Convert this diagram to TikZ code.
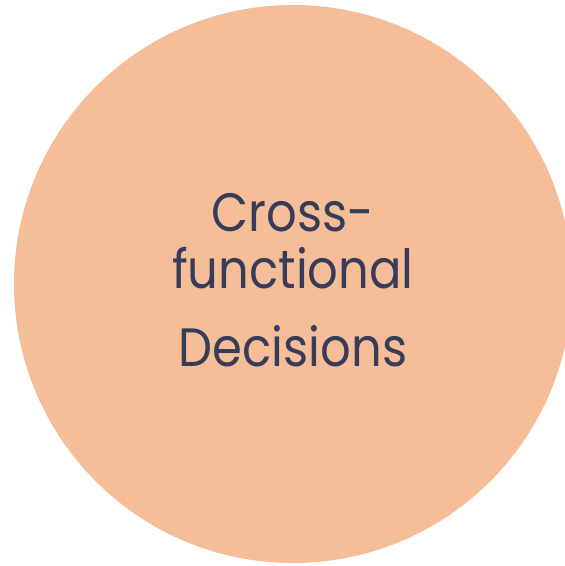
\documentclass[tikz,border=0pt]{standalone}
\usepackage{fontspec}
\setmainfont[FakeStretch=0.89]{Poppins}
\definecolor{peach}{HTML}{F5BE98}
\definecolor{ink}{HTML}{373D58}
\begin{document}
\begin{tikzpicture}[x=1pt,y=1pt,
  lbl/.style={text=ink,font=\fontsize{54}{60}\selectfont,anchor=base,inner sep=0pt}]
\useasboundingbox (0,0) rectangle (565,566);
\fill[peach] (293,282) circle (279);
\node[lbl] (l1) at (293,334) {Cross-};
\node[lbl] (l2) at (293,277) {functional};
\node[lbl] (l3) at (293,199) {Decisions};
\end{tikzpicture}
\end{document}
